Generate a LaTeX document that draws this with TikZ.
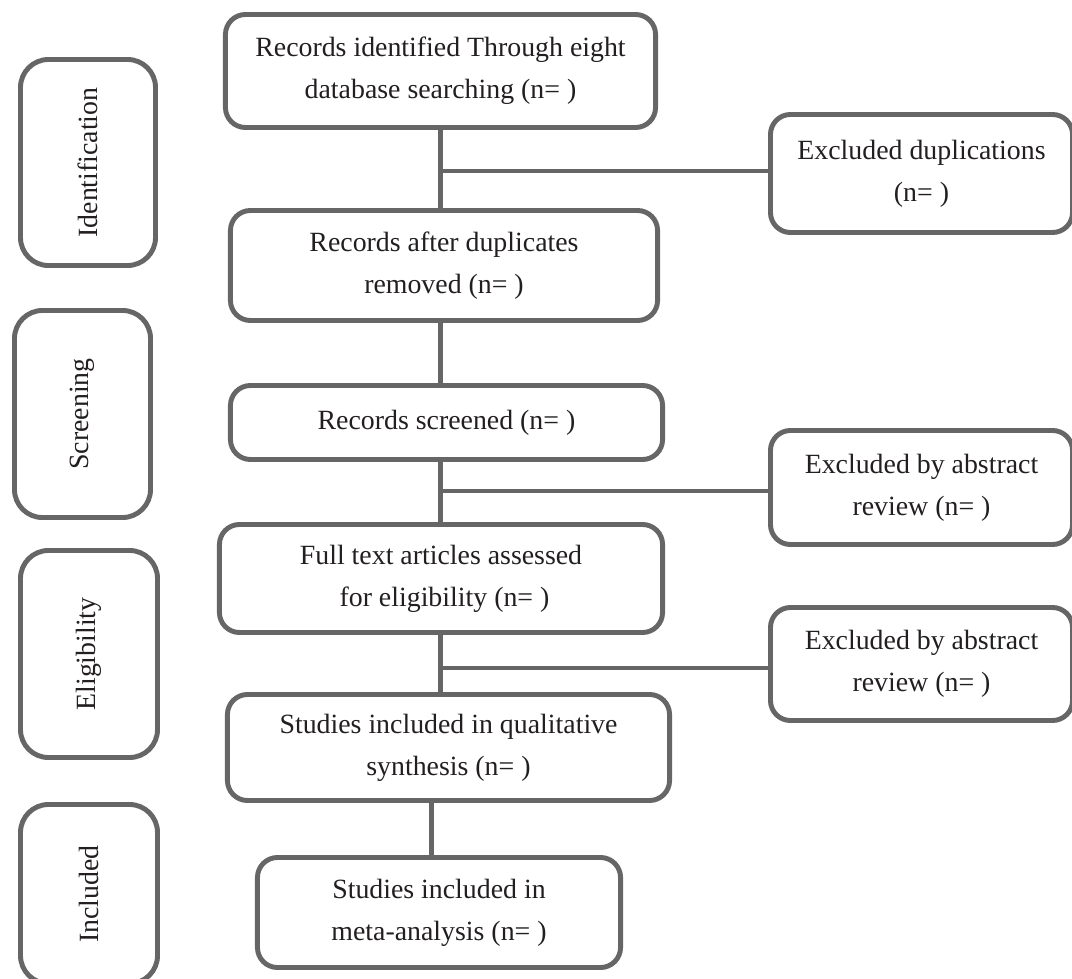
\documentclass[tikz,border=0pt]{standalone}
\usepackage{fontspec}
\setmainfont{Liberation Serif}
\definecolor{boxgray}{HTML}{666666}
\definecolor{inkblack}{HTML}{231F20}

\begin{document}
\begin{tikzpicture}[x=0.025cm,y=-0.025cm,font=\fontsize{19.8pt}{30pt}\selectfont,text=inkblack,
  box/.style={draw=boxgray,line width=3.5pt,rounded corners=0.5cm,fill=white,align=center,inner sep=0pt},
  stage/.style={draw=boxgray,line width=3.5pt,rounded corners=0.7cm,fill=white,rotate=90,inner sep=0pt},
  link/.style={draw=boxgray,line width=3.2pt}]
\useasboundingbox (0,0) rectangle (1072,979);
\node[stage,minimum width=5.15cm,minimum height=3.375cm] (ident) at (88,162.5) {Identification};
\node[stage,minimum width=5.175cm,minimum height=3.4cm] (screen) at (82.5,414) {Screening};
\node[stage,minimum width=5.175cm,minimum height=3.425cm] (elig) at (89,654) {Eligibility};
\node[stage,minimum width=4.475cm,minimum height=3.425cm] (incl) at (89,894) {Included};
\node[box,minimum width=10.75cm,minimum height=2.825cm] (found) at (440.5,71) {Records identified Through eight\\database searching (n= )};
\node[box,minimum width=7.55cm,minimum height=2.95cm] (dupes) at (921.5,173.5) {Excluded duplications\\(n= )};
\node[box,minimum width=10.675cm,minimum height=2.75cm] (dedup) at (444,265.5) {Records after duplicates\\removed (n= )};
\node[box,minimum width=10.8cm,minimum height=1.85cm] (screened) at (446.5,422.5) {Records screened (n= )};
\node[box,minimum width=7.55cm,minimum height=2.85cm] (absout) at (921.5,487.5) {Excluded by abstract\\review (n= )};
\node[box,minimum width=11.075cm,minimum height=2.7cm] (fulltext) at (441,578.5) {Full text articles assessed\\ \ for eligibility (n= )};
\node[box,minimum width=7.55cm,minimum height=2.825cm] (fullout) at (921.5,664) {Excluded by abstract\\review (n= )};
\node[box,minimum width=11.05cm,minimum height=2.65cm] (quali) at (448.5,747.5) {Studies included in qualitative\\synthesis (n= )};
\node[box,minimum width=9.075cm,minimum height=2.75cm] (meta) at (439,912.5) {Studies included in\\meta-analysis (n= )};
\coordinate (j1) at (440.5,171);
\coordinate (j2) at (440.5,491);
\coordinate (j3) at (440.5,668);
\draw[link] (found.south) -- (found.south |- dedup.north);
\draw[link] (j1) -- (j1 -| dupes.west);
\draw[link] (found.south |- dedup.south) -- (found.south |- screened.north);
\draw[link] (found.south |- screened.south) -- (found.south |- fulltext.north);
\draw[link] (j2) -- (j2 -| absout.west);
\draw[link] (found.south |- fulltext.south) -- (found.south |- quali.north);
\draw[link] (j3) -- (j3 -| fullout.west);
\draw[link] ([xshift=-0.19cm]meta.north) -- ([xshift=-0.19cm]meta.north |- quali.south);
\end{tikzpicture}
\end{document}
